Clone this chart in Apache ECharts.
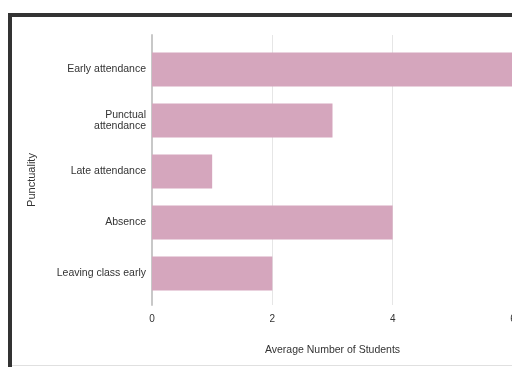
<!DOCTYPE html>
<html>
<head>
<meta charset="utf-8">
<script src="https://cdn.jsdelivr.net/npm/echarts@6/dist/echarts.min.js"></script>
<style>
  html, body { margin: 0; padding: 0; background: #fff; }
  #chart { width: 512px; height: 367px; }
</style>
</head>
<body>
<div id="chart"></div>
<script>
// Punctuality categories and their average student counts
const categories = ['Early attendance', 'Punctual attendance', 'Late attendance', 'Absence', 'Leaving class early'];
const avgStudents = [6, 3, 1, 4, 2];
const xTicks = { min: 0, max: 6, interval: 2 };

const font = 'Liberation Sans, Arial, sans-serif';
const chart = echarts.init(document.getElementById('chart'));

chart.setOption({
  animation: false,
  backgroundColor: '#ffffff',
  grid: [
    { left: 152, width: 361, top: 44, height: 255, outerBoundsMode: 'none', containLabel: false },   // bars
    { left: 152, width: 361, top: 35, height: 270, outerBoundsMode: 'none', containLabel: false }    // gridlines, ticks
  ],
  xAxis: [
    { gridIndex: 0, type: 'value', min: xTicks.min, max: xTicks.max, interval: xTicks.interval, show: false },
    {
      gridIndex: 1, type: 'value', min: xTicks.min, max: xTicks.max, interval: xTicks.interval,
      axisLine: { show: false }, axisTick: { show: false },
      splitLine: { lineStyle: { color: '#e6e6e6', width: 1 } },
      axisLabel: { color: '#333', fontSize: 10, fontFamily: font, margin: 9 },
      name: 'Average Number of Students', nameLocation: 'middle', nameGap: 40,
      nameTextStyle: { color: '#333', fontSize: 10.5, fontFamily: font }
    }
  ],
  yAxis: [
    {
      gridIndex: 0, type: 'category', data: categories, inverse: true,
      axisLine: { show: false }, axisTick: { show: false },
      axisLabel: {
        color: '#333', fontSize: 10.5, fontFamily: font, margin: 6, align: 'right', lineHeight: 11,
        formatter: v => v === 'Punctual attendance' ? 'Punctual\nattendance' : v
      }
    },
    {
      gridIndex: 1, type: 'value', min: 0, max: 1,
      axisLine: { show: true, onZero: false, lineStyle: { color: '#c8c8c8', width: 2 } },
      axisTick: { show: false }, axisLabel: { show: false }, splitLine: { show: false }
    }
  ],
  series: [{
    type: 'bar',
    xAxisIndex: 0, yAxisIndex: 0,
    data: avgStudents,
    barCategoryGap: '33%',
    itemStyle: { color: '#d5a6bd' }
  }],
  graphic: [
    { type: 'rect', shape: { x: 8, y: 13, width: 504, height: 4 }, style: { fill: '#333' } },
    { type: 'rect', shape: { x: 8, y: 13, width: 4, height: 354 }, style: { fill: '#333' } },
    { type: 'rect', shape: { x: 12, y: 365, width: 500, height: 1 }, style: { fill: '#e0e0e0' } },
    {
      type: 'text', x: 32, y: 180, rotation: Math.PI / 2,
      style: { text: 'Punctuality', fill: '#333', fontSize: 11, fontFamily: font, align: 'center', verticalAlign: 'middle' }
    }
  ]
});
</script>
</body>
</html>
